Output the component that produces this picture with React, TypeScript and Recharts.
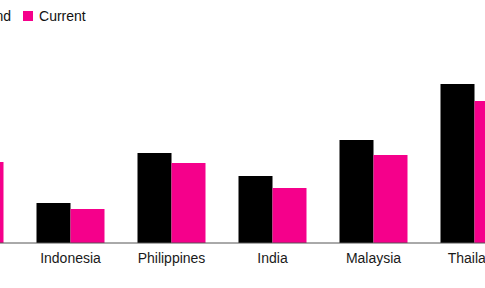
import { BarChart, Bar, XAxis, YAxis, Legend } from 'recharts'

const countries = ['Vietnam', 'Indonesia', 'Philippines', 'India', 'Malaysia', 'Thailand']
const trendValues = [95, 40, 90, 67, 103, 159]
const currentValues = [81, 34, 80, 55, 88, 142]

const seriesNames = { trend: 'Trend', current: 'Current' }
const colors = { trend: '#000000', current: '#f5008b' }

const data = countries.map((country, i) => ({
  country,
  trend: trendValues[i],
  current: currentValues[i],
}))

const font = '"Liberation Sans", Arial, sans-serif'

// legend drawn as a fixed-height row so the plot offset stays predictable
function LegendRow() {
  const items = [
    { key: 'trend', label: seriesNames.trend, color: colors.trend },
    { key: 'current', label: seriesNames.current, color: colors.current },
  ]
  return (
    <div style={{ display: 'flex', height: 20, alignItems: 'center', fontFamily: font, fontSize: 14, color: '#111' }}>
      {items.map((it) => (
        <div key={it.key} style={{ display: 'flex', alignItems: 'center', marginRight: 12 }}>
          <span style={{ width: 10, height: 10, background: it.color, marginRight: 6, display: 'inline-block' }} />
          <span>{it.label}</span>
        </div>
      ))}
    </div>
  )
}

export default function App() {
  return (
    <div style={{ position: 'fixed', left: 0, top: 0, width: 485, height: 288, overflow: 'hidden', background: '#fff' }}>
      <div style={{ position: 'absolute', left: -81, top: 0 }}>
        <BarChart
          width={606}
          height={288}
          data={data}
          margin={{ top: 43, right: 0, bottom: 0, left: 0 }}
          barCategoryGap={16.5}
          barGap={0}
        >
          <Legend
            verticalAlign="top"
            align="left"
            content={() => <LegendRow />}
            wrapperStyle={{ top: 6, left: 40, width: 'auto' }}
          />
          <XAxis
            dataKey="country"
            height={45}
            tickLine={false}
            tickMargin={4}
            axisLine={{ stroke: '#555' }}
            interval={0}
            tick={{ fontSize: 14, fill: '#1a1a1a', fontFamily: font }}
          />
          <YAxis hide domain={[0, 180]} />
          <Bar dataKey="trend" name={seriesNames.trend} fill={colors.trend} isAnimationActive={false} />
          <Bar dataKey="current" name={seriesNames.current} fill={colors.current} isAnimationActive={false} />
        </BarChart>
      </div>
    </div>
  )
}
